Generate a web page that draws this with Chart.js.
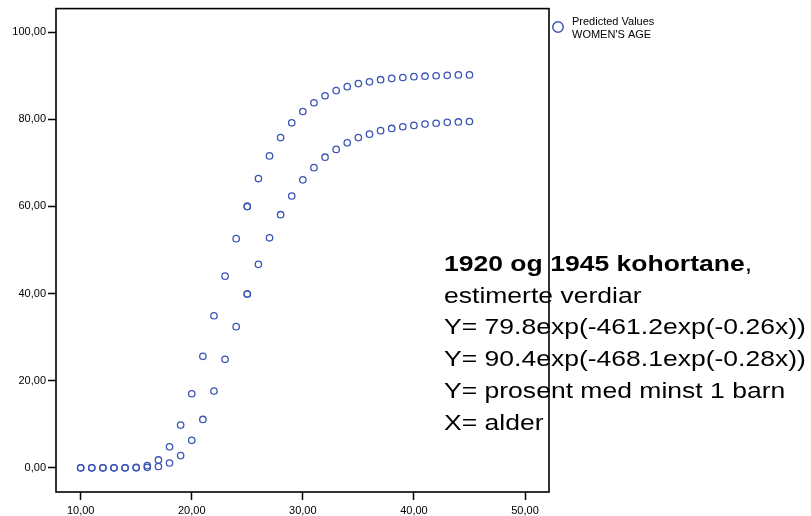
<!DOCTYPE html>
<html>
<head>
<meta charset="utf-8">
<script src="https://cdn.jsdelivr.net/npm/chart.js@4.4.1/dist/chart.umd.min.js"></script>
<style>
  html, body { margin: 0; padding: 0; background: #fff; }
  #wrap { position: relative; width: 811px; height: 516px; }
</style>
</head>
<body>
<div id="wrap"><canvas id="chart" width="811" height="516"></canvas></div>
<script>
// Predicted values by women's age; age 25 appears twice in the data.
const ages = [10, 11, 12, 13, 14, 15, 16, 17, 18, 19, 20, 21, 22, 23, 24, 25, 25,
  26, 27, 28, 29, 30, 31, 32, 33, 34, 35, 36, 37, 38, 39, 40, 41, 42, 43, 44, 45];
// Y = 90.4exp(-468.1exp(-0.28x))
const upperValues = [0, 0, 0, 0, 0, 0.1, 0.5, 1.8, 4.8, 9.8, 17.0, 25.6, 34.9, 44.0, 52.6, 60.0, 60.0,
  66.4, 71.6, 75.8, 79.2, 81.8, 83.8, 85.4, 86.6, 87.5, 88.2, 88.6, 89.1, 89.4, 89.6, 89.8, 89.9, 90.0, 90.1, 90.2, 90.2];
// Y = 79.8exp(-461.2exp(-0.26x))
const lowerValues = [0, 0, 0, 0, 0, 0, 0.1, 0.3, 1.1, 2.8, 6.3, 11.1, 17.6, 24.9, 32.4, 39.9, 39.9,
  46.7, 52.8, 58.1, 62.4, 66.1, 68.9, 71.3, 73.1, 74.6, 75.8, 76.6, 77.4, 77.9, 78.3, 78.6, 78.9, 79.1, 79.3, 79.4, 79.5];
const xTicks = [10, 20, 30, 40, 50];
const yTicks = [0, 20, 40, 60, 80, 100];

const legendLines = ['Predicted Values', "WOMEN'S AGE"];
const noteTitle = '1920 og 1945 kohortane';
const noteLines = [
  'estimerte verdiar',
  'Y= 79.8exp(-461.2exp(-0.26x))',
  'Y= 90.4exp(-468.1exp(-0.28x))',
  'Y= prosent med minst 1 barn',
  'X= alder'
];

const FONT = '"Liberation Sans", Arial, Helvetica, sans-serif';
const BLUE = '#3b55b4';
const fmt = (v) => Number(v).toFixed(2).replace('.', ',');

const pts = (vals) => ages.map((a, i) => ({ x: a, y: vals[i] }));

// the note text in the original is a bit wide and flat
function stretchText(ctx, text, x, y) {
  ctx.save();
  ctx.translate(x, y);
  ctx.scale(1.02, 0.86);
  ctx.fillText(text, 0, 0);
  ctx.restore();
}

// text + legend go under the frame, frame goes over everything
const decor = {
  id: 'decor',
  beforeDraw(chart) {
    const ctx = chart.ctx;
    ctx.save();
    // legend
    ctx.strokeStyle = BLUE;
    ctx.lineWidth = 1.5;
    ctx.beginPath();
    ctx.arc(558, 27, 5.2, 0, Math.PI * 2);
    ctx.stroke();
    ctx.fillStyle = '#000';
    ctx.font = '11px ' + FONT;
    ctx.textBaseline = 'alphabetic';
    ctx.fillText(legendLines[0], 572, 25);
    ctx.fillText(legendLines[1], 572, 37.5);
    // note
    ctx.font = 'bold 26px ' + FONT;
    stretchText(ctx, noteTitle, 444, 271);
    const w = ctx.measureText(noteTitle).width * 1.02;
    ctx.font = '26px ' + FONT;
    stretchText(ctx, ',', 444 + w, 271);
    noteLines.forEach((t, i) => stretchText(ctx, t, 444, 302.7 + i * 31.7));
    ctx.restore();
  },
  afterDatasetsDraw(chart) {
    const { ctx, chartArea: a } = chart;
    ctx.save();
    ctx.strokeStyle = '#000';
    ctx.lineWidth = 1.6;
    ctx.strokeRect(a.left, a.top, a.right - a.left, a.bottom - a.top);
    ctx.restore();
  }
};

new Chart(document.getElementById('chart'), {
  type: 'scatter',
  data: {
    datasets: [
      { label: 'upper', data: pts(upperValues) },
      { label: 'lower', data: pts(lowerValues) }
    ]
  },
  options: {
    responsive: false,
    animation: false,
    events: [],
    layout: { padding: { left: 0, top: 7, right: 262, bottom: 0 } },
    elements: {
      point: {
        pointStyle: 'circle',
        radius: 3.2,
        borderWidth: 1.3,
        borderColor: BLUE,
        backgroundColor: 'rgba(0,0,0,0)'
      }
    },
    plugins: { legend: { display: false }, tooltip: { enabled: false } },
    scales: {
      x: {
        type: 'linear',
        min: 7.78,
        max: 52.16,
        afterFit: (s) => { s.height = 24; },
        afterBuildTicks: (s) => { s.ticks = xTicks.map((v) => ({ value: v })); },
        border: { display: false },
        grid: { drawOnChartArea: false, drawTicks: true, tickLength: 8, tickWidth: 1.5, tickColor: '#000' },
        ticks: { padding: 4, color: '#000', font: { family: FONT, size: 11 }, callback: fmt, maxRotation: 0 }
      },
      y: {
        type: 'linear',
        min: -5.56,
        max: 105.42,
        afterFit: (s) => { s.width = 56; },
        afterBuildTicks: (s) => { s.ticks = yTicks.map((v) => ({ value: v })); },
        border: { display: false },
        grid: { drawOnChartArea: false, drawTicks: true, tickLength: 8, tickWidth: 1.5, tickColor: '#000' },
        ticks: { padding: 2, color: '#000', font: { family: FONT, size: 11 }, callback: fmt }
      }
    }
  },
  plugins: [decor]
});
</script>
</body>
</html>
